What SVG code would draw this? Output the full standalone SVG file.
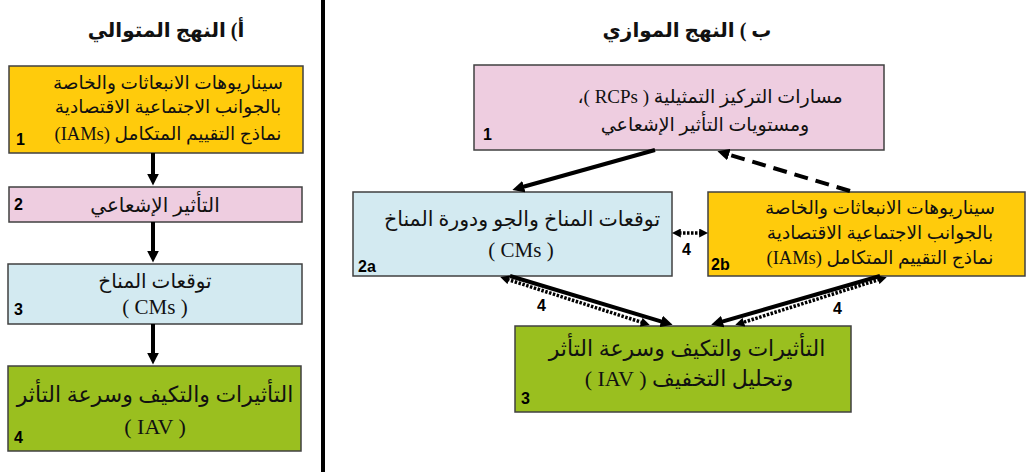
<svg xmlns="http://www.w3.org/2000/svg" width="1027" height="472" viewBox="0 0 1027 472">
<style>
.box{stroke:#404040;stroke-width:1.5}
.y{fill:#FFCB0C}.p{fill:#EECDE0}.b{fill:#D3EAF1}.g{fill:#9ABF1F}
.t{font-family:"Liberation Serif","DejaVu Sans",serif;fill:#111;text-anchor:middle}
.ttl{font-family:"Liberation Serif","DejaVu Sans",serif;font-size:20px;font-weight:bold;fill:#111;text-anchor:middle}
.n{font-family:"Liberation Sans",sans-serif;font-size:16px;font-weight:bold;fill:#000}
.a{stroke:#000;stroke-width:4;fill:none}
.d{stroke:#000;stroke-width:4;fill:none;stroke-dasharray:14 8}
.o{stroke:#000;stroke-width:3.5;fill:none;stroke-dasharray:2.5 1.5}
</style>
<defs>
<marker id="ah" viewBox="0 0 10 10" refX="2" refY="5" markerWidth="12" markerHeight="12" markerUnits="userSpaceOnUse" orient="auto"><path d="M0,0L10,5L0,10z" fill="#000"/></marker>
<marker id="ahs" viewBox="0 0 10 10" refX="2" refY="5" markerWidth="9" markerHeight="9" markerUnits="userSpaceOnUse" orient="auto-start-reverse"><path d="M0,0L10,5L0,10z" fill="#000"/></marker>
</defs>
<rect width="1027" height="472" fill="#fff"/>
<line x1="323" y1="0" x2="323" y2="472" stroke="#000" stroke-width="4"/>

<text class="ttl" x="166" y="37" direction="rtl">أ) النهج المتوالي</text>
<text class="ttl" x="687" y="37" direction="rtl">ب ) النهج الموازي</text>

<g id="seq1">
<rect class="box y" x="9" y="66" width="294" height="87"/>
<text class="t" x="168" y="89" font-size="18.5" direction="rtl">سيناريوهات الانبعاثات والخاصة</text>
<text class="t" x="168" y="113" font-size="18.5" direction="rtl">بالجوانب الاجتماعية الاقتصادية</text>
<text class="t" x="168" y="140" font-size="18.5" direction="rtl">نماذج التقييم المتكامل (IAMs)</text>
<text class="n" x="16" y="145">1</text>
</g>
<g id="seq2">
<rect class="box p" x="9" y="187" width="293" height="35"/>
<text class="t" x="155" y="212" font-size="20" direction="rtl">التأثير الإشعاعي</text>
<text class="n" x="14" y="210">2</text>
</g>
<g id="seq3">
<rect class="box b" x="8" y="264" width="294" height="60"/>
<text class="t" x="155" y="288" font-size="20" direction="rtl">توقعات المناخ</text>
<text class="t" x="155" y="314" font-size="21">( CMs )</text>
<text class="n" x="14" y="315">3</text>
</g>
<g id="seq4">
<rect class="box g" x="8" y="366" width="293" height="85"/>
<text class="t" x="155" y="402" font-size="22" direction="rtl">التأثيرات والتكيف وسرعة التأثر</text>
<text class="t" x="155" y="434" font-size="22">( IAV )</text>
<text class="n" x="14" y="443">4</text>
</g>

<g id="par1">
<rect class="box p" x="474" y="65" width="410" height="85"/>
<text class="t" x="710" y="103" font-size="19" direction="rtl">مسارات التركيز التمثيلية ( RCPs )،</text>
<text class="t" x="705" y="131" font-size="19" direction="rtl">ومستويات التأثير الإشعاعي</text>
<text class="n" x="483" y="140">1</text>
</g>
<g id="par2a">
<rect class="box b" x="353" y="192" width="319" height="84"/>
<text class="t" x="522" y="226" font-size="20.5" direction="rtl">توقعات المناخ والجو ودورة المناخ</text>
<text class="t" x="521" y="257" font-size="21">( CMs )</text>
<text class="n" x="358" y="272">2a</text>
</g>
<g id="par2b">
<rect class="box y" x="708" y="192" width="317" height="84"/>
<text class="t" x="880" y="214" font-size="18.5" direction="rtl">سيناريوهات الانبعاثات والخاصة</text>
<text class="t" x="880" y="239" font-size="18.5" direction="rtl">بالجوانب الاجتماعية الاقتصادية</text>
<text class="t" x="880" y="264" font-size="18.5" direction="rtl">نماذج التقييم المتكامل (IAMs)</text>
<text class="n" x="711" y="270">2b</text>
</g>
<g id="par3">
<rect class="box g" x="515" y="326" width="336" height="86"/>
<text class="t" x="687" y="356" font-size="22" direction="rtl">التأثيرات والتكيف وسرعة التأثر</text>
<text class="t" x="689" y="386" font-size="22" direction="rtl">وتحليل التخفيف ( IAV )</text>
<text class="n" x="521" y="404">3</text>
</g>

<g id="connectors">
<line class="a" x1="153" y1="153" x2="153" y2="176" marker-end="url(#ah)"/>
<line class="a" x1="153" y1="222" x2="153" y2="253" marker-end="url(#ah)"/>
<line class="a" x1="153" y1="324" x2="153" y2="355" marker-end="url(#ah)"/>
<line class="a" x1="655" y1="150" x2="521.6" y2="187.3" marker-end="url(#ah)"/>
<line class="d" x1="850" y1="191" x2="726.6" y2="153.9" marker-end="url(#ah)"/>
<line class="o" x1="679" y1="233" x2="701" y2="233" marker-start="url(#ahs)" marker-end="url(#ahs)"/>
<line class="a" x1="510" y1="276" x2="663.4" y2="322.1" marker-end="url(#ah)"/>
<line class="o" x1="507.1" y1="279.3" x2="642.9" y2="322.7" marker-start="url(#ahs)" marker-end="url(#ahs)"/>
<line class="a" x1="880" y1="276" x2="720.4" y2="322.2" marker-end="url(#ah)"/>
<line class="o" x1="879.8" y1="279.3" x2="742.2" y2="322.7" marker-start="url(#ahs)" marker-end="url(#ahs)"/>
<text class="n" x="682" y="255">4</text>
<text class="n" x="537" y="311">4</text>
<text class="n" x="833" y="314">4</text>
</g>
</svg>
